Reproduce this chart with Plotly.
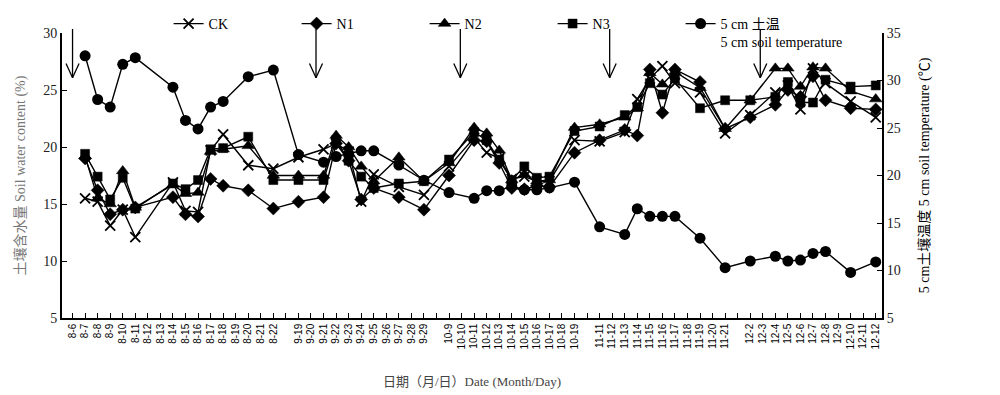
import plotly.graph_objects as go

# ---- x axis slots (blank = gap between sampling periods) ----
slot_labels = (["8-6", "8-7", "8-8", "8-9", "8-10", "8-11", "8-12", "8-13", "8-14", "8-15",
                "8-16", "8-17", "8-18", "8-19", "8-20", "8-21", "8-22", ""]
               + ["9-19", "9-20", "9-21", "9-22", "9-23", "9-24", "9-25", "9-26", "9-27",
                  "9-28", "9-29", ""]
               + ["10-9", "10-10", "10-11", "10-12", "10-13", "10-14", "10-15", "10-16",
                  "10-17", "10-18", "10-19", ""]
               + ["11-11", "11-12", "11-13", "11-14", "11-15", "11-16", "11-17", "11-18",
                  "11-19", "11-20", "11-21", ""]
               + ["12-2", "12-3", "12-4", "12-5", "12-6", "12-7", "12-8", "12-9", "12-10",
                  "12-11", "12-12"])

# ---- observation dates ----
obs_dates = ["8-7", "8-8", "8-9", "8-10", "8-11", "8-14", "8-15", "8-16", "8-17", "8-18",
             "8-20", "8-22",
             "9-19", "9-21", "9-22", "9-23", "9-24", "9-25", "9-27", "9-29",
             "10-9", "10-11", "10-12", "10-13", "10-14", "10-15", "10-16", "10-17", "10-19",
             "11-11", "11-13", "11-14", "11-15", "11-16", "11-17", "11-19", "11-21",
             "12-2", "12-4", "12-5", "12-6", "12-7", "12-8", "12-10", "12-12"]

# ---- soil water content (%) ----
ck = [15.5, 15.2, 13.1, 14.5, 12.1, 16.9, 14.4, 14.3, 19.7, 21.1, 18.4, 18.1,
      19.1, 19.8, 20.3, 19.6, 15.2, 17.6, 16.5, 15.8,
      18.3, 20.8, 19.5, 19.0, 17.2, 17.4, 17.0, 17.0, 20.6,
      20.5, 21.3, 24.2, 26.0, 27.1, 25.6, 24.8, 21.2,
      22.8, 24.8, 25.4, 23.3, 26.9, 25.6, 24.0, 22.6]
n1 = [19.0, 16.2, 14.1, 14.5, 14.7, 15.6, 14.1, 13.9, 17.2, 16.6, 16.2, 14.6,
      15.2, 15.6, 20.3, 18.8, 15.4, 16.4, 15.6, 14.5,
      17.5, 20.6, 20.5, 18.6, 16.4, 16.3, 16.6, 16.5, 19.5,
      20.6, 21.5, 21.0, 26.8, 23.0, 26.8, 25.7, 21.6,
      22.6, 23.7, 25.0, 24.4, 26.2, 24.1, 23.4, 23.3]
n2 = [19.2, 15.5, 15.0, 17.9, 14.7, 16.7, 15.9, 16.0, 19.6, 19.8, 20.1, 17.5,
      17.5, 17.5, 21.0, 20.0, 18.3, 17.0, 19.1, 17.0,
      18.6, 21.7, 21.2, 19.7, 17.1, 17.6, 17.0, 17.1, 21.7,
      22.0, 22.6, 23.4, 26.5, 25.5, 26.6, 25.2, 21.6,
      24.1, 26.9, 26.9, 25.3, 27.0, 26.9, 24.9, 24.2]
n3 = [19.4, 17.4, 15.4, 17.3, 14.6, 16.8, 16.3, 17.1, 19.8, 19.9, 20.9, 17.1,
      17.1, 17.1, 20.6, 18.8, 17.4, 16.4, 16.8, 17.0,
      18.9, 21.3, 20.6, 18.9, 17.1, 18.3, 17.3, 17.4, 21.4,
      21.8, 22.8, 23.5, 25.6, 24.6, 26.0, 23.4, 24.1,
      24.1, 24.4, 25.7, 23.9, 23.9, 25.9, 25.3, 25.4]
# ---- 5 cm soil temperature (degC) ----
temp = [32.6, 28.0, 27.2, 31.7, 32.4, 29.3, 25.8, 24.9, 27.2, 27.8, 30.4, 31.1,
        22.2, 21.4, 22.0, 22.3, 22.6, 22.6, 21.1, 19.5,
        18.2, 17.6, 18.4, 18.4, 18.9, 18.5, 18.5, 18.7, 19.3,
        14.6, 13.8, 16.5, 15.7, 15.7, 15.7, 13.4, 10.3,
        11.0, 11.5, 11.0, 11.1, 11.8, 12.0, 9.8, 10.9]

# irrigation / event arrows (slot positions)
arrow_x = [0.0, 19.4, 30.9, 42.8, 54.8]

series_names = ["CK", "N1", "N2", "N3"]
series_vals = [ck, n1, n2, n3]
series_symbols = ["x-thin-open", "diamond", "triangle-up", "square"]
series_sizes = [10, 10, 11, 9]

x_obs = [slot_labels.index(d) for d in obs_dates]

SERIF = "Liberation Serif, Times New Roman, Noto Sans CJK SC, serif"

fig = go.Figure()
for name, vals, sym, sz in zip(series_names, series_vals, series_symbols, series_sizes):
    fig.add_trace(go.Scatter(
        x=x_obs, y=vals, name=name, mode="lines+markers",
        line=dict(color="black", width=1.4),
        marker=dict(symbol=sym, size=sz, color="black",
                    line=dict(color="black", width=1.8 if sym.startswith("x") else 0.5)),
    ))
fig.add_trace(go.Scatter(
    x=x_obs, y=temp, name="5 cm 土温<br>5 cm soil temperature", mode="lines+markers",
    yaxis="y2", legendwidth=170,
    line=dict(color="black", width=1.4),
    marker=dict(symbol="circle", size=11, color="black"),
))

# arrows
shapes = []
TOP, TIP = 1.014, 0.843
HW, HH = 0.52, 0.05
for ax in arrow_x:
    shapes.append(dict(type="line", xref="x", yref="paper", x0=ax, x1=ax, y0=TOP, y1=TIP,
                       line=dict(color="black", width=1.3)))
    shapes.append(dict(type="line", xref="x", yref="paper", x0=ax - HW, x1=ax, y0=TIP + HH, y1=TIP,
                       line=dict(color="black", width=1.3)))
    shapes.append(dict(type="line", xref="x", yref="paper", x0=ax + HW, x1=ax, y0=TIP + HH, y1=TIP,
                       line=dict(color="black", width=1.3)))

# page body has an 8px margin, so the figure is sized/offset accordingly
fig.update_layout(
    width=992, height=387,
    margin=dict(l=54, r=118, t=25, b=77, autoexpand=False),
    paper_bgcolor="white", plot_bgcolor="white",
    font=dict(family=SERIF, size=14, color="black"),
    showlegend=True,
    legend=dict(orientation="h", x=0.13, xanchor="left", yref="container", y=1.0, yanchor="top",
                entrywidth=83, entrywidthmode="pixels", valign="top",
                font=dict(family=SERIF, size=14, color="black"),
                bgcolor="rgba(0,0,0,0)", itemsizing="trace"),
    shapes=shapes,
    xaxis=dict(
        range=[-0.84, 64.5], tickmode="array", automargin=False,
        tickvals=list(range(len(slot_labels))), ticktext=slot_labels,
        tickangle=-90, tickfont=dict(family="Liberation Sans, Arial, sans-serif", size=10, color="black"),
        ticks="inside", ticklen=5, tickcolor="black", tickwidth=1,
        showline=True, linecolor="black", linewidth=1.6, showgrid=False, zeroline=False,
        title=dict(text="日期（月/日）Date (Month/Day)", standoff=29,
                   font=dict(family=SERIF, size=13, color="#444444")),
    ),
    yaxis=dict(
        range=[5, 30], tickvals=[5, 10, 15, 20, 25, 30], automargin=False,
        ticks="inside", ticklen=5, tickcolor="black", tickwidth=1.2,
        showline=True, linecolor="black", linewidth=1.8, showgrid=False, zeroline=False,
        tickfont=dict(family=SERIF, size=14, color="#222222"),
        title=dict(text="土壤含水量 Soil water content (%)", standoff=14,
                   font=dict(family=SERIF, size=14, color="#777777")),
    ),
    yaxis2=dict(
        range=[5, 35], tickvals=[5, 10, 15, 20, 25, 30, 35], overlaying="y", side="right",
        automargin=False,
        ticks="inside", ticklen=5, tickcolor="black", tickwidth=1.2,
        showline=True, linecolor="black", linewidth=1.8, showgrid=False, zeroline=False,
        tickfont=dict(family=SERIF, size=14, color="#222222"),
        title=dict(text="5 cm土壤温度 5 cm soil temperature (℃)", standoff=19,
                   font=dict(family=SERIF, size=14, color="black")),
    ),
)

fig.write_html("out.html")
